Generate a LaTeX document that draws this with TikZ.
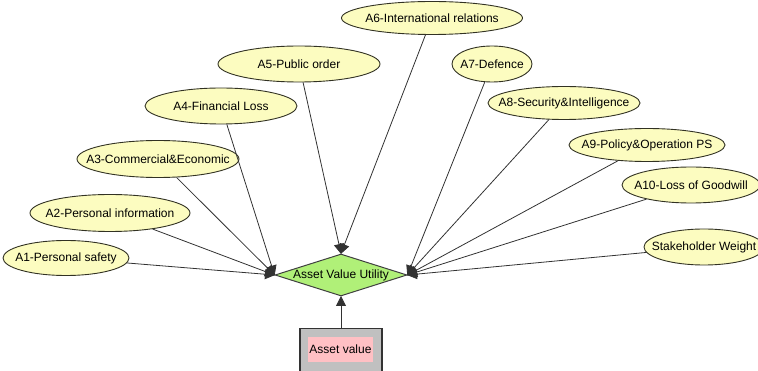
\documentclass[tikz,border=0pt]{standalone}
\usepackage{fontspec}
\setmainfont{Liberation Sans}
\usetikzlibrary{shapes.geometric,arrows.meta}
\definecolor{ellfill}{RGB}{252,252,192}
\definecolor{ellline}{RGB}{50,50,35}
\definecolor{utilfill}{RGB}{176,240,120}
\definecolor{boxgray}{RGB}{192,192,192}
\definecolor{labelpink}{RGB}{255,192,196}
\definecolor{wire}{RGB}{50,50,50}
% zero-width label so the shape size comes only from its minimum size
\newcommand\flatlabel[1]{\makebox[0pt]{#1}}
\tikzset{
  attr/.style={ellipse, draw=ellline, fill=ellfill, line width=0.9pt,
    inner sep=0pt, font=\fontsize{12}{14}\selectfont},
  util/.style={diamond, draw=black!75, fill=utilfill, line width=1pt,
    inner sep=0pt, aspect=3.1, minimum width=132pt, minimum height=42pt,
    font=\fontsize{12}{14}\selectfont},
  valbox/.style={rectangle, draw=black!80, fill=boxgray, line width=1.2pt,
    minimum width=82pt, minimum height=46pt, inner sep=0pt},
  link/.style={draw=wire, line width=0.8pt,
    -{Triangle[length=10pt,width=10pt]}, shorten >=-0.5pt}
}
\begin{document}
\begin{tikzpicture}[x=1pt,y=-1pt]
\useasboundingbox (0,0) rectangle (758,371);

% central utility node
\node[util] (U) at (341,275) {\flatlabel{Asset Value Utility}};

% value box with its pink label
\node[valbox, anchor=north] (V) at (341,328) {};
\node[fill=labelpink, minimum width=65pt, minimum height=25pt, inner sep=0pt,
  font=\fontsize{12}{14}\selectfont] (VL) at (340.5,349.5) {Asset value};

% attribute ellipses
\node[attr, minimum width=126pt, minimum height=35pt] (A1) at (66,258) {\flatlabel{A1-Personal safety}};
\node[attr, minimum width=160pt, minimum height=37pt] (A2) at (110,213) {\flatlabel{A2-Personal information}};
\node[attr, minimum width=162pt, minimum height=37pt] (A3) at (158,159) {\flatlabel{A3-Commercial\&Economic}};
\node[attr, minimum width=152pt, minimum height=36pt] (A4) at (221,106) {\flatlabel{A4-Financial Loss}};
\node[attr, minimum width=162pt, minimum height=36pt] (A5) at (299,64) {\flatlabel{A5-Public order}};
\node[attr, minimum width=181pt, minimum height=33pt] (A6) at (432,18) {\flatlabel{A6-International relations}};
\node[attr, minimum width=80pt,  minimum height=36pt] (A7) at (492,64) {\flatlabel{A7-Defence}};
\node[attr, minimum width=152pt, minimum height=33pt] (A8) at (564,103) {\flatlabel{A8-Security\&Intelligence}};
\node[attr, minimum width=156pt, minimum height=33pt] (A9) at (647,145) {\flatlabel{A9-Policy\&Operation PS}};
\node[attr, minimum width=138pt, minimum height=36pt] (A10) at (691,185) {\flatlabel{A10-Loss of Goodwill}};
\node[attr, minimum width=120pt, minimum height=36pt] (SW) at (704,247) {\flatlabel{Stakeholder Weight}};

% connectors into the utility node
\foreach \a in {A1,A2,A3,A4}
  \draw[link] (\a) -- (U.west);
\foreach \a in {A5,A6}
  \draw[link] (\a) -- (U.north);
\foreach \a in {A7,A8,A9,A10,SW}
  \draw[link] (\a) -- (U.east);
\draw[link] (V.north) -- (U.south);
\end{tikzpicture}
\end{document}
